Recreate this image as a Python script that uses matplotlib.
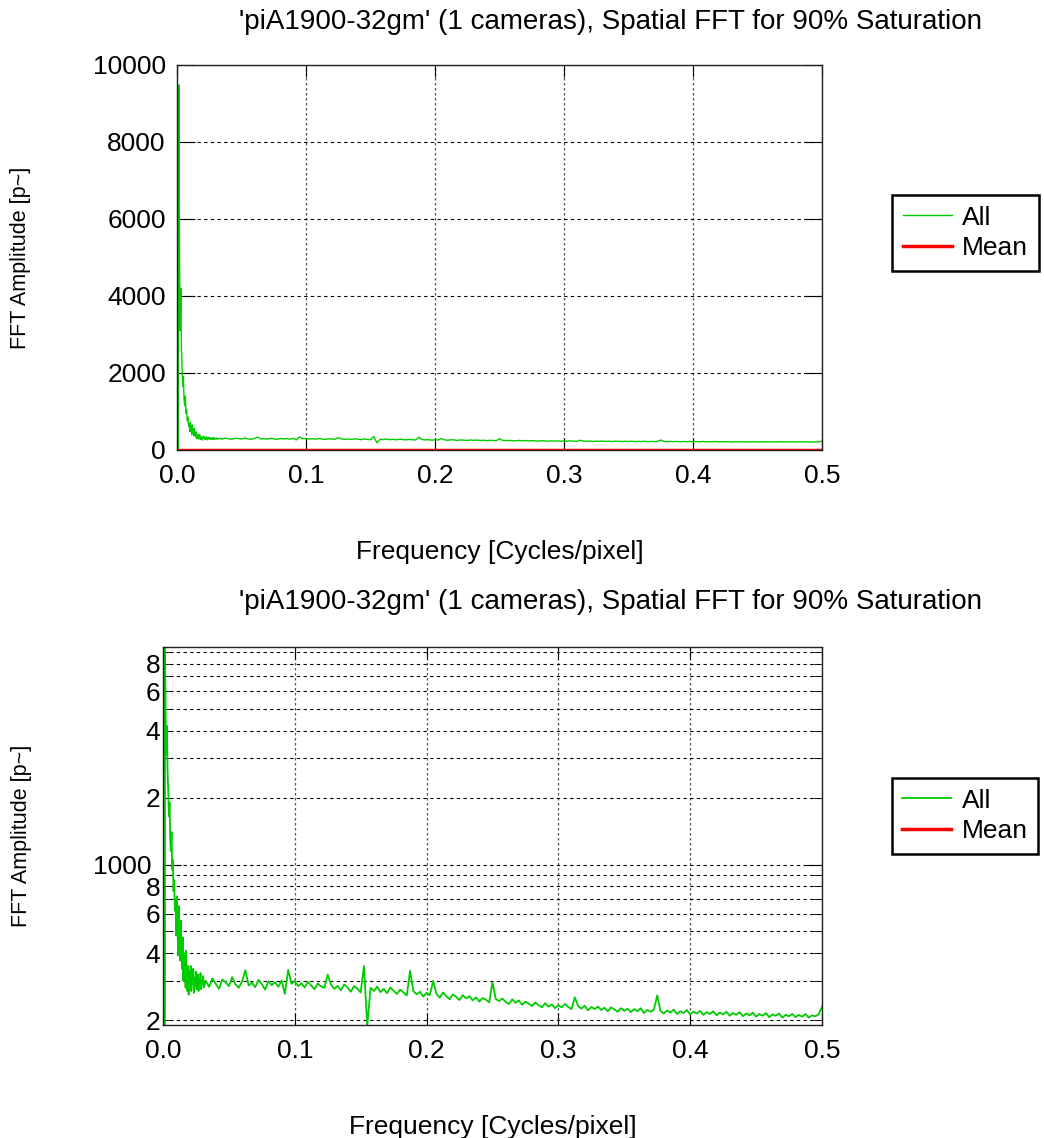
import numpy as np
import matplotlib
matplotlib.use("Agg")
import matplotlib.pyplot as plt
from matplotlib.ticker import LogLocator, FuncFormatter, FixedLocator

plt.rcParams['font.family'] = ['Liberation Sans', 'DejaVu Sans']

title_text = "'piA1900-32gm' (1 cameras), Spatial FFT for 90% Saturation"
x_label = "Frequency [Cycles/pixel]"
y_label = "FFT Amplitude [p~]"

# low-frequency part, bins of 0.0005 cycles/pixel starting at 0.001
low_start = 0.001
low_step = 0.0005
low_amp = [
    0, 9480, 4950, 3100, 4200, 2600, 2150, 1650, 1900, 1300,
    1150, 1400, 950, 1050, 760, 850, 620, 700, 480, 720,
    560, 390, 650, 470, 370, 560, 420, 340, 470, 300,
    400, 330, 280, 410, 310, 270, 350, 260, 330, 300,
    350, 270, 320, 290, 340, 265, 310, 285, 330, 275,
    300, 320, 270, 305, 285, 325, 275, 300, 290, 315,
    280,
]

# rest of the spectrum, bins of 0.0025 from 0.0325 to 0.5
high_start = 0.0325
high_step = 0.0025
high_amp = [
    300, 282, 308, 291, 276, 304, 296, 284, 312, 289,
    279, 298, 335, 286, 294, 281, 303, 290, 274, 299,
    287, 296, 282, 301, 262, 336, 291, 300, 284, 293,
    280, 297, 286, 275, 292, 283, 279, 320, 288, 276,
    285, 272, 289, 280, 268, 284, 277, 266, 350, 188,
    279, 270, 283, 267, 276, 264, 280, 271, 262, 274,
    266, 258, 333, 270, 261, 268, 255, 265, 259, 300,
    262, 252, 266, 256, 248, 261, 254, 246, 259, 250,
    256, 245, 253, 242, 251, 247, 240, 295, 249, 243,
    250, 241, 236, 248, 239, 245, 234, 242, 237, 231,
    240, 233, 228, 238, 230, 235, 226, 233, 228, 236,
    229, 224, 253, 231, 225, 232, 221, 229, 224, 230,
    222, 227, 219, 228, 223, 218, 226, 220, 225, 217,
    224, 219, 226, 215, 222, 218, 223, 258, 220, 214,
    221, 216, 223, 213, 219, 215, 222, 212, 218, 214,
    220, 211, 217, 213, 219, 210, 216, 212, 218, 209,
    215, 211, 217, 208, 214, 210, 216, 207, 213, 209,
    215, 206, 212, 209, 214, 205, 211, 208, 213, 206,
    211, 207, 213, 205, 210, 208, 212, 229,
]

mean_freq = [0.001, 0.5]
mean_amp = [0.0, 0.0]

low_freq = low_start + np.arange(len(low_amp)) * low_step
high_freq = high_start + np.arange(len(high_amp)) * high_step
freq = np.concatenate([low_freq, high_freq])
amp = np.concatenate([low_amp, high_amp]).astype(float)

GREEN = "#00cc00"
RED = "#ff0000"
FS = 19


def styleAxes(ax):
    ax.set_xlim(0, 0.5)
    ax.set_xticks([0.0, 0.1, 0.2, 0.3, 0.4, 0.5])
    ax.xaxis.set_major_formatter(FuncFormatter(lambda v, p: f"{v:.1f}"))
    ax.tick_params(which='both', direction='in', top=True, right=True,
                   labelsize=FS, color='black')
    ax.tick_params(axis='x', which='major', length=8.5, pad=10)
    ax.tick_params(axis='y', which='major', length=13, pad=8)
    ax.tick_params(axis='y', which='minor', length=6.5, pad=2)
    ax.grid(True, which='both', axis='y', color='black', linestyle=(0, (3, 3)), linewidth=0.8)
    ax.grid(True, which='major', axis='x', color='#555555', linestyle=(0, (2, 2)), linewidth=0.9)
    for s in ax.spines.values():
        s.set_color('#222222')
        s.set_linewidth(1.0)


def drawLegend(ax, x, y):
    leg = ax.legend(loc='center left', bbox_to_anchor=(x, y), fontsize=FS,
                    fancybox=False, framealpha=1, edgecolor='black',
                    handlelength=1.85, handletextpad=0.4, borderpad=0.4,
                    labelspacing=0.25, borderaxespad=0)
    leg.get_frame().set_linewidth(1.8)


fig = plt.figure(figsize=(10.44, 11.38), dpi=100)

# top: linear amplitude
ax1 = fig.add_axes([0.1695, 0.6046, 0.6179, 0.3383])
ax1.plot(freq, amp, color=GREEN, linewidth=1.0, label="All")
ax1.plot(mean_freq, mean_amp, color=RED, linewidth=2.5, label="Mean")
styleAxes(ax1)
ax1.set_ylim(0, 10000)
ax1.set_yticks([0, 2000, 4000, 6000, 8000, 10000])
ax1.set_xlabel(x_label, fontsize=FS)
ax1.xaxis.set_label_coords(0.5, -0.235)
ax1.set_ylabel(y_label, fontsize=15.5)
ax1.yaxis.set_label_coords(-0.227, 0.5)
drawLegend(ax1, 1.109, 0.564)
fig.text(0.585, 0.981, title_text, ha='center', va='center', fontsize=20)

# bottom: log amplitude
ax2 = fig.add_axes([0.1561, 0.0993, 0.6312, 0.3322])
ax2.plot(freq, amp, color=GREEN, linewidth=1.3, label="All")
ax2.plot(mean_freq, mean_amp, color=RED, linewidth=2.5, label="Mean")
ax2.set_yscale('log')
styleAxes(ax2)
ax2.set_ylim(190, 9500)
ax2.yaxis.set_major_locator(FixedLocator([1000]))
ax2.yaxis.set_major_formatter(FuncFormatter(lambda v, p: "1000"))
ax2.yaxis.set_minor_locator(LogLocator(base=10, subs=np.arange(2, 10)))


def minorLabel(v, p):
    d = int(round(v / 10 ** np.floor(np.log10(v))))
    return str(d) if d in (2, 4, 6, 8) else ""


ax2.yaxis.set_minor_formatter(FuncFormatter(minorLabel))
ax2.tick_params(axis='y', which='minor', labelsize=FS)
ax2.set_xlabel(x_label, fontsize=FS)
ax2.xaxis.set_label_coords(0.5, -0.238)
ax2.set_ylabel(y_label, fontsize=15.5)
ax2.yaxis.set_label_coords(-0.199, 0.5)
drawLegend(ax2, 1.106, 0.553)
fig.text(0.585, 0.471, title_text, ha='center', va='center', fontsize=20)

fig.savefig("out.png", dpi=100)
